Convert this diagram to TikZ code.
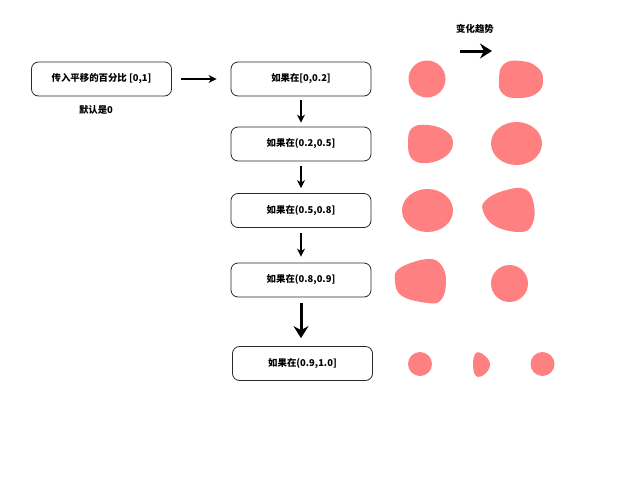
\documentclass[tikz,border=0pt]{standalone}
\usepackage{fontspec}
\setmainfont{Noto Sans CJK SC}
\usetikzlibrary{arrows.meta}
\definecolor{blobc}{RGB}{255,128,128}
\definecolor{edge}{RGB}{40,40,40}
\tikzset{
  box/.style={draw=edge, line width=0.8pt, rounded corners=7pt, minimum width=140pt, minimum height=34pt, font=\fontsize{9.4}{11}\selectfont\bfseries, inner sep=0pt},
  lbl/.style={font=\fontsize{9.4}{11}\selectfont\bfseries, inner sep=0pt},
  conn/.style={-{Stealth[length=8pt,width=8pt,inset=2.5pt]}, line width=1.4pt, black},
  thick conn/.style={-{Stealth[length=12pt,width=15pt,inset=4pt]}, line width=3pt, black},
  blob/.style={fill=blobc, draw=none}
}
\begin{document}
\begin{tikzpicture}[x=1pt,y=-1pt]
\useasboundingbox (0,0) rectangle (640,480);
\fill[white] (0,0) rectangle (640,480);
% boxes
\node[box] (b0) at (101.5,79) {传入平移的百分比 [0,1]};
\node[lbl] (d0) at (96,110) {默认是0};
\node[box] (bA) at (301,79) {如果在[0,0.2]};
\node[box] (bB) at (301,144) {如果在(0.2,0.5]};
\node[box] (bC) at (301,210.5) {如果在(0.5,0.8]};
\node[box] (bD) at (301,280) {如果在(0.8,0.9]};
\node[box] (bE) at (302.5,363.5) {如果在(0.9,1.0]};
\coordinate (eTop) at ([yshift=8pt]bE.north);
% connectors
\draw[conn] ([xshift=9pt]b0.east) -- ([xshift=-14pt]bA.west);
\draw[conn] ([yshift=-4pt]bA.south) -- ([yshift=4pt]bB.north);
\draw[conn] ([yshift=-5pt]bB.south) -- ([yshift=5pt]bC.north);
\draw[conn] ([yshift=-5pt]bC.south) -- ([yshift=6pt]bD.north);
\draw[thick conn] ([yshift=-6pt]bD.south) -- (bD.south |- eTop);
% trend
\node[lbl] (trend) at (475,29) {变化趋势};
\coordinate (ta) at (460,51);
\coordinate (tb) at (492,51);
\draw[thick conn] (ta) -- (tb);
% row 1
\fill[blob] (427,79) circle (18.5);
\fill[blob] plot[smooth cycle, tension=0.8] coordinates {(504,64) (521,61) (537,67) (543,80) (537,93) (519,98) (503,94) (499,80)};
% row 2
\fill[blob] plot[smooth cycle, tension=0.7] coordinates {(412,128) (428,125) (446,131) (453,143) (446,156) (428,163) (412,159) (408,143)};
\fill[blob] (516.5,143.5) ellipse (25.5 and 21.5);
% row 3
\fill[blob] (427.5,210.5) ellipse (25.5 and 21.5);
\fill[blob] plot[smooth cycle, tension=0.7] coordinates {(486,200) (503,191) (525,189) (534,205) (532,225) (520,232) (495,226) (483,211)};
% row 4
\fill[blob] plot[smooth cycle, tension=0.7] coordinates {(400,268) (428,259) (442,266) (446,283) (441,300) (428,303) (402,296) (395,281)};
\fill[blob] (509.5,283.5) circle (18.5);
% row 5
\fill[blob] (420,364) circle (12);
\fill[blob] plot[smooth cycle, tension=0.7] coordinates {(476,353) (484,355) (490,364) (485,374) (476,376) (473,364)};
\fill[blob] (542.5,364) circle (12);
\end{tikzpicture}
\end{document}
